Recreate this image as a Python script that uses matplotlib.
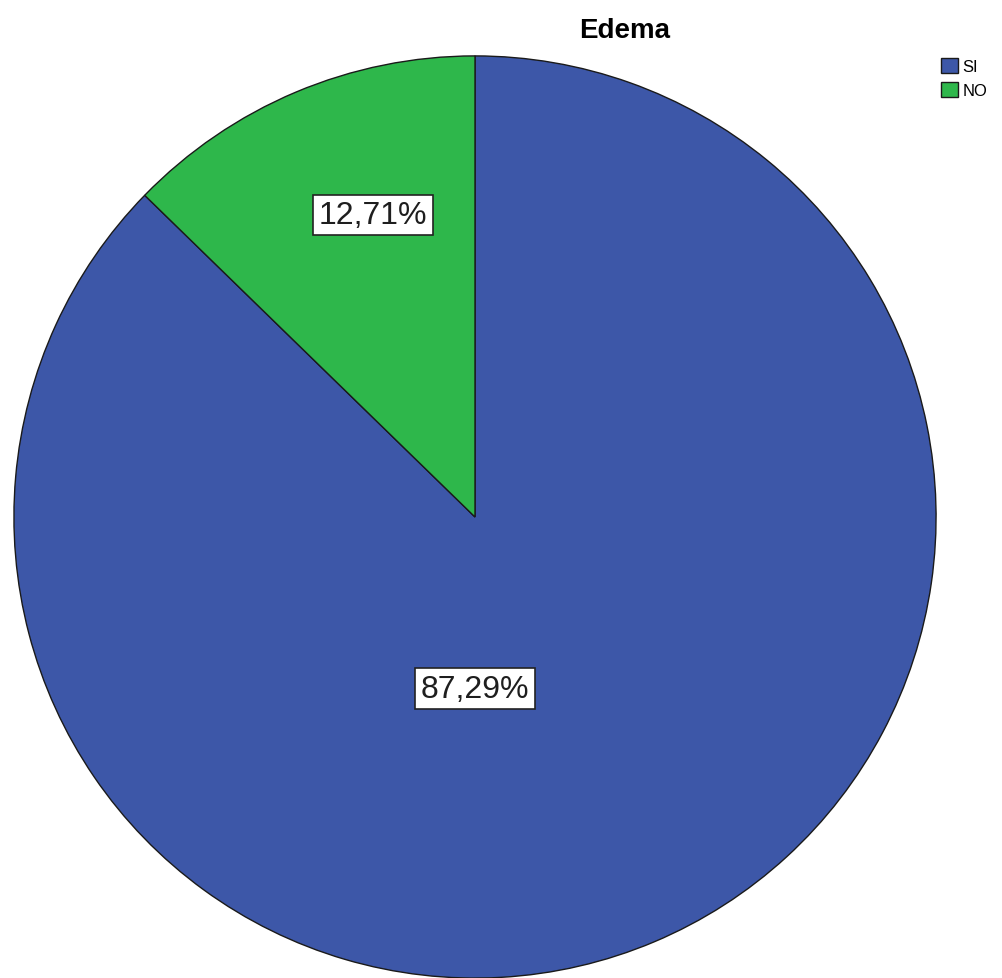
import matplotlib

matplotlib.use("Agg")
import matplotlib.pyplot as plt

categories = ["SI", "NO"]
percentages = [87.29, 12.71]
label_texts = ["87,29%", "12,71%"]
title = "Edema"

COLORS = ["#3d57a8", "#2eb74b"]
W, H = 1002, 979

plt.rcParams["font.family"] = ["Liberation Sans", "DejaVu Sans"]

fig = plt.figure(figsize=(W / 100, H / 100), dpi=100)
fig.patch.set_facecolor("white")

# pie area: center (475, 518) px, radius 462 px
cx, cy, r = 475, 518, 462
ax = fig.add_axes([(cx - r) / W, (H - cy - r) / H, 2 * r / W, 2 * r / H])
wedges, _ = ax.pie(percentages, colors=COLORS, startangle=90, counterclock=False,
                   wedgeprops=dict(edgecolor="#1a1a1a", linewidth=1.0))
ax.set_xlim(-1.002, 1.002)
ax.set_ylim(-1.002, 1.002)
ax.set_aspect("auto")
ax.axis("off")

# label positions (in pie radius units), as SPSS places them
label_pos = [(0.0, -0.372), (-0.221, 0.655)]
for txt, (x, y) in zip(label_texts, label_pos):
    ax.text(x, y, txt, ha="center", va="center", fontsize=23, color="#1e1e1e",
            bbox=dict(boxstyle="square,pad=0.17", facecolor="white", edgecolor="#222222", linewidth=1.2))

fig.text(625 / W, 1 - 31 / H, title, ha="center", va="center", fontsize=20, fontweight="bold")

fig.legend(wedges, categories, loc="upper left", bbox_to_anchor=(941 / W, 1 - 59 / H),
           frameon=False, fontsize=12, handlelength=1.0, handleheight=1.0,
           handletextpad=0.3, labelspacing=0.45, borderaxespad=0, borderpad=0)

fig.savefig("out.png", dpi=100, facecolor="white")
